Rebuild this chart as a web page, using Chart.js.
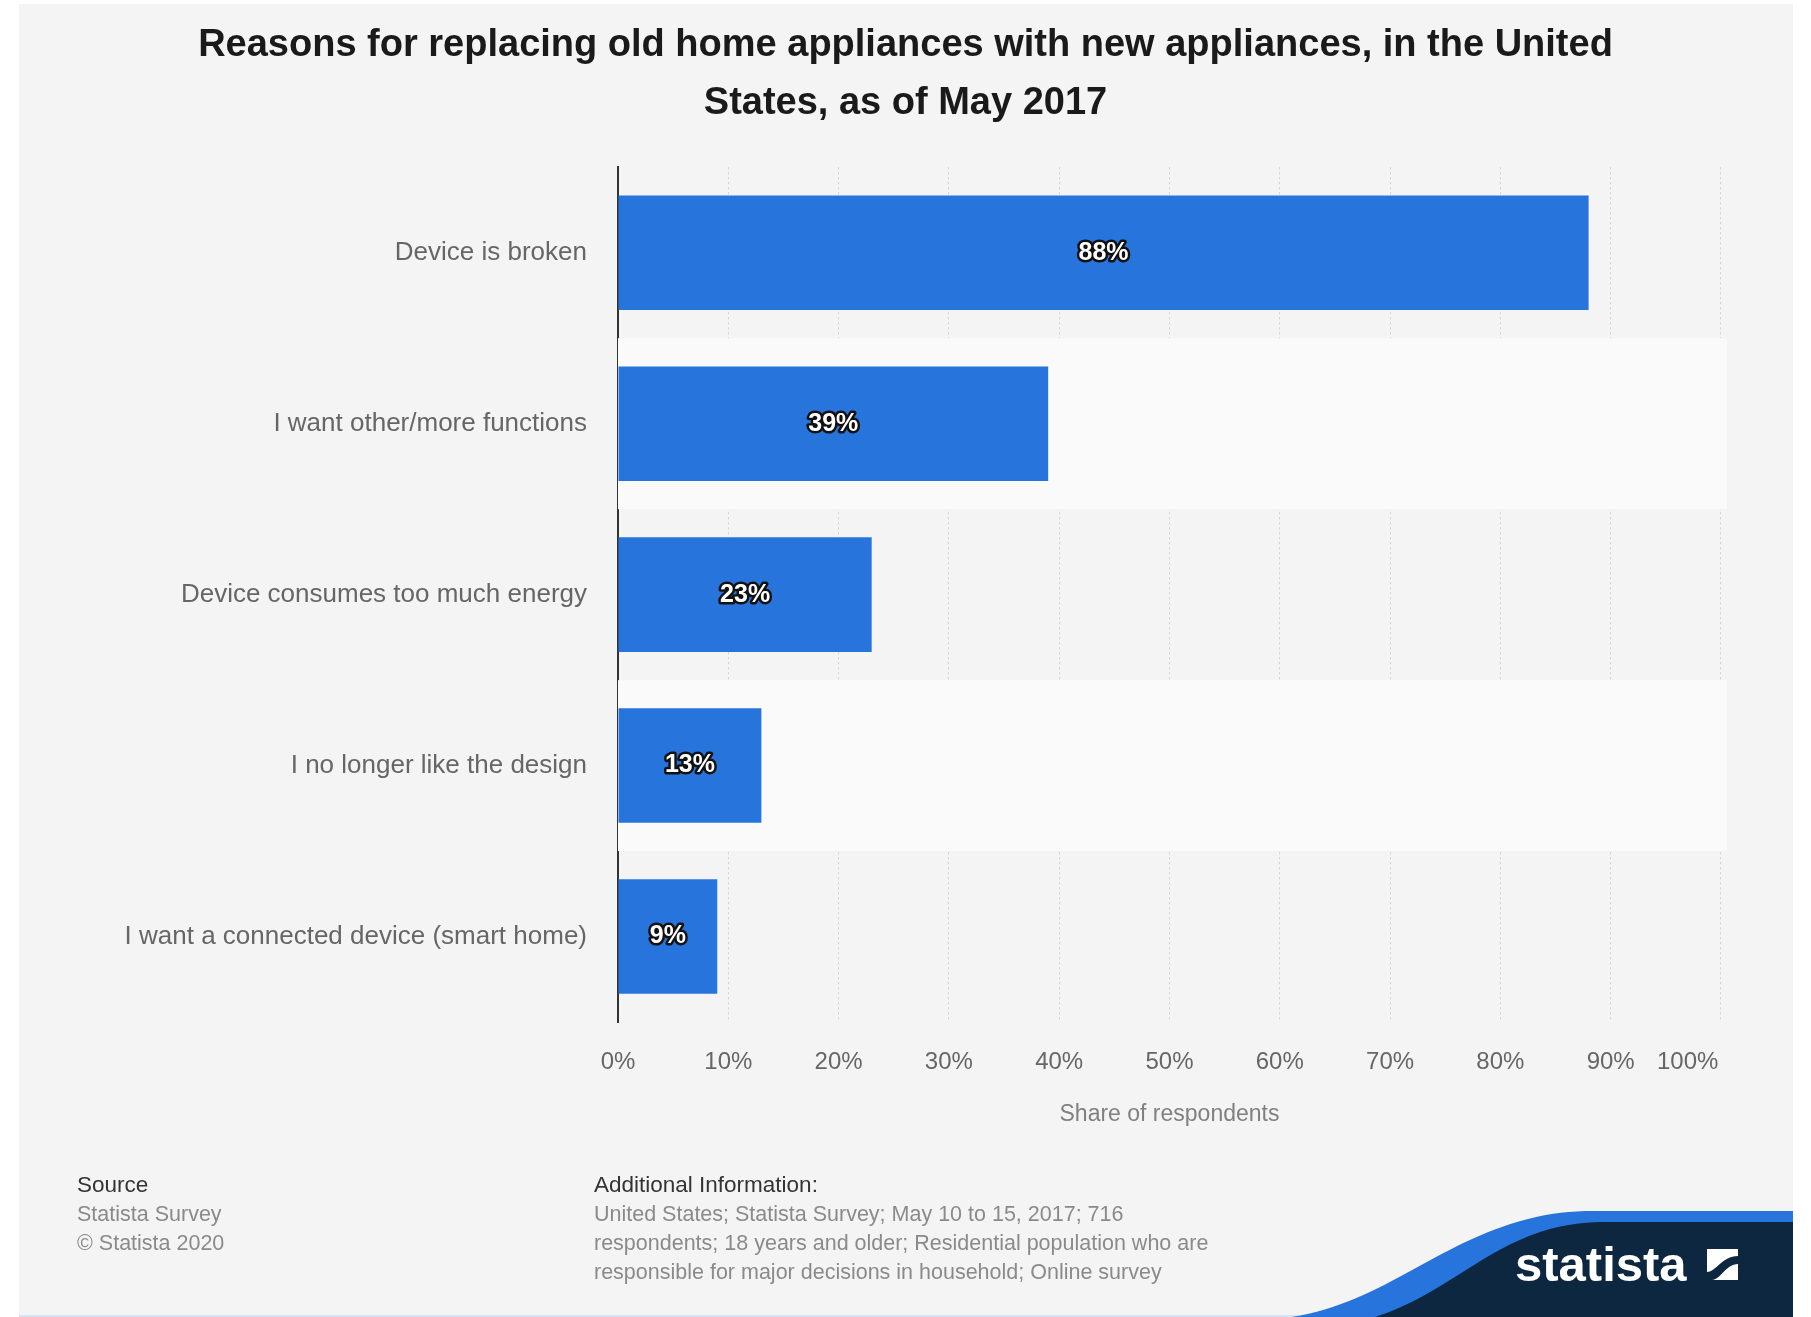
<!DOCTYPE html>
<html>
<head>
<meta charset="utf-8">
<script src="https://cdn.jsdelivr.net/npm/chart.js@4"></script>
<style>
  body { margin: 0; background: #ffffff; font-family: "Liberation Sans", Arial, sans-serif; }
  #panel { position: absolute; left: 19px; top: 4px; width: 1774px; height: 1311px; background: #f4f4f4; border-bottom: 2px solid #d3e4f7; }
  #chart { position: absolute; left: 0; top: 0; }
  .foot { position: absolute; font-size: 21.5px; line-height: 29px; color: #8a8a8a; }
  .foot b { font-weight: normal; color: #333333; font-size: 22.5px; }
  #logo { position: absolute; left: 0; top: 0; }
</style>
</head>
<body>
<div id="panel"></div>
<svg id="logo" width="1811" height="1317">
  <path d="M1292,1317 C1400,1300 1460,1215 1585,1211 L1793,1211 L1793,1317 Z" fill="#2775dc"/>
  <path d="M1375,1317 C1460,1290 1500,1224 1600,1222 L1793,1222 L1793,1317 Z" fill="#0d2740"/>
  <text x="1515" y="1281" fill="#ffffff" font-family="Liberation Sans, Arial, sans-serif" font-weight="bold" font-size="49">statista</text>
  <rect x="1707" y="1249" width="31" height="31" fill="#ffffff"/>
  <path d="M1707,1280 L1707,1272 C1716,1272 1722,1256 1738,1256 L1738,1264 C1726,1264 1720,1280 1712,1280 Z" fill="#0d2740"/>
</svg>
<canvas id="chart" width="1811" height="1317"></canvas>
<div class="foot" style="left:77px; top:1170px;">
  <b>Source</b><br>Statista Survey<br>© Statista 2020
</div>
<div class="foot" style="left:594px; top:1170px;">
  <b>Additional Information:</b><br>United States; Statista Survey; May 10 to 15, 2017; 716<br>respondents; 18 years and older; Residential population who are<br>responsible for major decisions in household; Online survey
</div>
<script>
// chart data
const titleLines = ['Reasons for replacing old home appliances with new appliances, in the United', 'States, as of May 2017'];
const categories = [
  'Device is broken',
  'I want other/more functions',
  'Device consumes too much energy',
  'I no longer like the design',
  'I want a connected device (smart home)'
];
const shares = [88, 39, 23, 13, 9];
const tickValues = [0, 10, 20, 30, 40, 50, 60, 70, 80, 90, 100];
const axisTitle = 'Share of respondents';

const barColor = '#2775dc';
const font = '"Liberation Sans", Arial, sans-serif';

// alternating row backgrounds behind the bars
const bandPlugin = {
  id: 'bands',
  beforeDatasetsDraw(chart) {
    const { ctx, chartArea, scales } = chart;
    const y = scales.y;
    const half = (y.getPixelForValue(1) - y.getPixelForValue(0)) / 2;
    ctx.save();
    ctx.fillStyle = '#fafafa';
    categories.forEach((c, i) => {
      if (i % 2 === 1) {
        const cy = y.getPixelForValue(i);
        ctx.fillRect(chartArea.left, cy - half, chartArea.right - chartArea.left + 6, half * 2);
      }
    });
    ctx.restore();
  }
};

// outlined value labels in the middle of each bar
const valueLabels = {
  id: 'valueLabels',
  afterDatasetsDraw(chart) {
    const { ctx } = chart;
    const meta = chart.getDatasetMeta(0);
    ctx.save();
    ctx.font = 'bold 25px ' + font;
    ctx.textAlign = 'center';
    ctx.textBaseline = 'middle';
    ctx.lineJoin = 'round';
    meta.data.forEach((bar, i) => {
      const cx = (bar.x + bar.base) / 2;
      const text = shares[i] + '%';
      ctx.lineWidth = 5;
      ctx.strokeStyle = '#111111';
      ctx.strokeText(text, cx, bar.y);
      ctx.fillStyle = '#ffffff';
      ctx.fillText(text, cx, bar.y);
    });
    ctx.restore();
  }
};

new Chart(document.getElementById('chart'), {
  type: 'bar',
  data: {
    labels: categories,
    datasets: [{
      data: shares,
      backgroundColor: barColor,
      borderWidth: 0,
      categoryPercentage: 1,
      barPercentage: 0.67
    }]
  },
  options: {
    indexAxis: 'y',
    responsive: false,
    animation: false,
    layout: { padding: { left: 0, right: 0, top: 0, bottom: 175 } },
    plugins: {
      legend: { display: false },
      tooltip: { enabled: false },
      title: {
        display: true,
        text: titleLines,
        color: '#1a1a1a',
        font: { family: font, size: 38, weight: 'bold', lineHeight: 1.53 },
        padding: { top: 16, bottom: 35 }
      }
    },
    scales: {
      x: {
        min: 0,
        max: 100,
        afterBuildTicks: (scale) => { scale.ticks = tickValues.map(v => ({ value: v })); },
        afterFit: (scale) => { scale.height = 120; },
        ticks: {
          // last label sits flush against the right gridline, as in the original
          callback: (v) => v === 100 ? v + '%          ' : v + '%',
          color: '#666666',
          padding: 26,
          maxRotation: 0,
          minRotation: 0,
          autoSkip: false,
          font: { family: font, size: 24 }
        },
        grid: { color: '#cfcfcf', lineWidth: 1, drawTicks: false },
        border: { display: false, dash: [2, 3] },
        title: {
          display: true,
          text: axisTitle,
          color: '#808080',
          padding: { top: 0, bottom: 14 },
          font: { family: font, size: 23 }
        }
      },
      y: {
        afterFit: (scale) => { scale.width = 618; },
        ticks: {
          color: '#666666',
          padding: 31,
          font: { family: font, size: 26 }
        },
        grid: { display: false, drawTicks: false },
        border: { display: true, color: '#333333', width: 2 }
      },
      // empty right-hand strip so the title stays centred on the whole page
      yRight: {
        type: 'category',
        position: 'right',
        labels: categories,
        afterFit: (scale) => { scale.width = 88; },
        ticks: { display: false },
        grid: { display: false, drawTicks: false },
        border: { display: false }
      }
    }
  },
  plugins: [bandPlugin, valueLabels]
});
</script>
</body>
</html>
